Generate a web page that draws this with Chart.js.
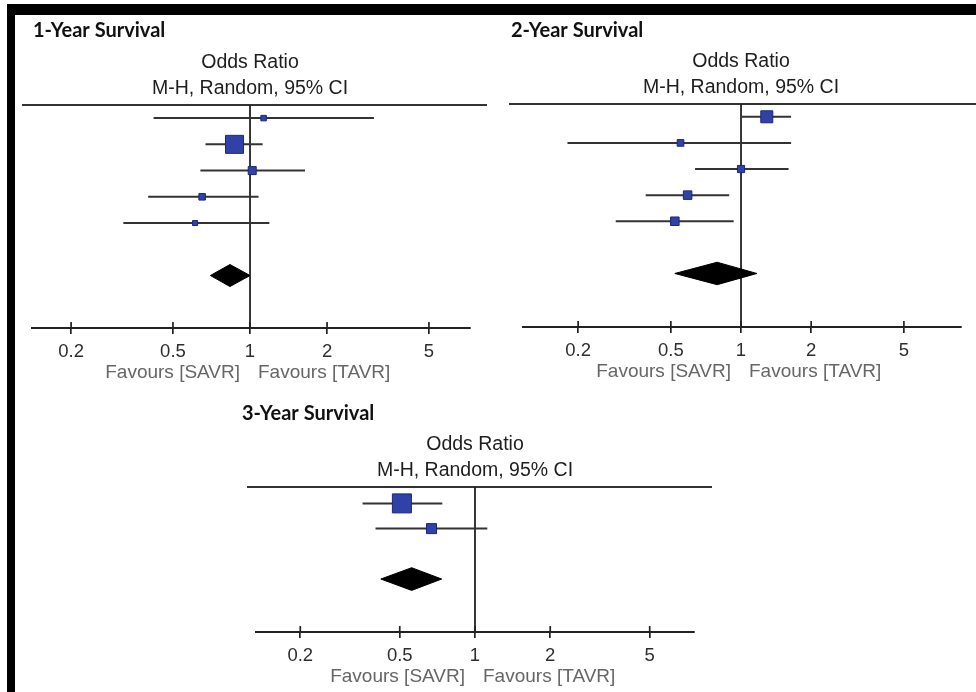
<!DOCTYPE html>
<html>
<head>
<meta charset="utf-8">
<script src="https://cdn.jsdelivr.net/npm/chart.js@4.4.1/dist/chart.umd.min.js"></script>
<style>
  html, body { margin: 0; padding: 0; background: #fff; }
  #page { position: relative; width: 976px; height: 692px; overflow: hidden; background: #fff; }
  .frame-top { position: absolute; left: 7px; top: 4px; width: 969px; height: 11px; background: #000; }
  .frame-left { position: absolute; left: 7px; top: 4px; width: 8px; height: 688px; background: #000; }
  canvas { position: absolute; }
</style>
</head>
<body>
<div id="page">
  <div class="frame-top"></div>
  <div class="frame-left"></div>
  <canvas id="oneYear" width="474" height="384" style="left:16px;top:16px;width:474px;height:384px"></canvas>
  <canvas id="twoYear" width="484" height="384" style="left:492px;top:16px;width:484px;height:384px"></canvas>
  <canvas id="threeYear" width="490" height="294" style="left:232px;top:398px;width:490px;height:294px"></canvas>
</div>
<script>
// Shared odds-ratio axis
const tickValues = [0.2, 0.5, 1, 2, 5];
const tickLabels = ['0.2', '0.5', '1', '2', '5'];
const headingLines = ['Odds Ratio', 'M-H, Random, 95% CI'];
const favourLabels = ['Favours [SAVR]', 'Favours [TAVR]'];
const panelTitles = ['1-Year Survival', '2-Year Survival', '3-Year Survival'];

// 1-year survival: per-study odds ratios, 95% CI bounds, weights (%)
const oneYearOR = [1.13, 0.87, 1.02, 0.65, 0.61];
const oneYearLower = [0.42, 0.67, 0.64, 0.40, 0.32];
const oneYearUpper = [3.05, 1.12, 1.64, 1.08, 1.19];
const oneYearWeight = [6.2, 66.8, 13.2, 8.7, 5.2];
const oneYearPooled = [0.70, 0.835, 1.0]; // lower, estimate, upper

// 2-year survival
const twoYearOR = [1.29, 0.55, 1.00, 0.59, 0.52];
const twoYearLower = [1.01, 0.18, 0.635, 0.39, 0.29];
const twoYearUpper = [1.64, 1.64, 1.60, 0.89, 0.93];
const twoYearWeight = [37.4, 11.5, 13.4, 18.9, 18.9];
const twoYearPooled = [0.52, 0.79, 1.17];

// 3-year survival
const threeYearOR = [0.51, 0.67];
const threeYearLower = [0.355, 0.40];
const threeYearUpper = [0.74, 1.12];
const threeYearWeight = [78.3, 21.7];
const threeYearPooled = [0.42, 0.558, 0.736];

const TEXT_FONT = '"Liberation Sans", Arial, sans-serif';
const TITLE_FONT = 'Lato, "Open Sans", sans-serif';

function forestPlot(canvasId, title, or, lower, upper, weight, pooled, look) {
  const maxW = Math.max(...weight);
  const pooledRow = look.pooledRow;
  const dh = look.diamondHalf;

  const datasets = [];
  // study squares, area proportional to weight
  datasets.push({
    label: 'studies',
    order: 0,
    data: or.map((v, i) => ({ x: v, y: i })),
    showLine: false,
    pointStyle: 'rect',
    pointRadius: weight.map(w => look.boxMax * Math.sqrt(w / maxW) / Math.SQRT2),
    pointBackgroundColor: '#3142a6',
    pointBorderColor: '#1d2679',
    pointBorderWidth: 1,
    clip: false
  });
  // confidence interval whiskers
  lower.forEach((lo, i) => {
    datasets.push({
      label: 'ci' + i,
      order: 2,
      data: [{ x: lo, y: i }, { x: upper[i], y: i }],
      showLine: true,
      borderColor: '#333',
      borderWidth: 2,
      pointRadius: 0,
      clip: false
    });
  });
  // pooled estimate diamond
  datasets.push({
    label: 'pooled',
    order: 1,
    data: [
      { x: pooled[0], y: pooledRow },
      { x: pooled[1], y: pooledRow - dh },
      { x: pooled[2], y: pooledRow },
      { x: pooled[1], y: pooledRow + dh },
      { x: pooled[0], y: pooledRow }
    ],
    showLine: true,
    fill: 'shape',
    backgroundColor: '#000',
    borderColor: '#000',
    borderWidth: 1,
    pointRadius: 0,
    tension: 0,
    clip: false
  });

  const decor = {
    id: 'forestDecor',
    beforeDatasetsDraw(chart) {
      const { ctx, chartArea, scales: { x } } = chart;
      const x1 = x.getPixelForValue(1);
      ctx.save();
      ctx.strokeStyle = '#333';
      ctx.lineWidth = 2;
      ctx.beginPath();
      ctx.moveTo(look.ruleLeft, chartArea.top);
      ctx.lineTo(look.ruleRight, chartArea.top);
      ctx.stroke();
      ctx.strokeStyle = '#222';
      ctx.lineWidth = 1.8;
      ctx.beginPath();
      ctx.moveTo(x1, chartArea.top);
      ctx.lineTo(x1, chartArea.bottom);
      ctx.stroke();
      // tick stubs above the axis line
      ctx.lineWidth = 1.7;
      tickValues.forEach(v => {
        const px = x.getPixelForValue(v);
        ctx.beginPath();
        ctx.moveTo(px, chartArea.bottom - 6);
        ctx.lineTo(px, chartArea.bottom);
        ctx.stroke();
      });
      ctx.restore();
    },
    afterDraw(chart) {
      const { ctx, chartArea, scales: { x } } = chart;
      const x1 = x.getPixelForValue(1);
      ctx.save();
      ctx.textBaseline = 'alphabetic';
      // panel title
      ctx.fillStyle = '#111';
      ctx.font = 'bold 20px ' + TITLE_FONT;
      ctx.textAlign = 'left';
      ctx.fillText(title, look.titleX, look.titleY);
      // column heading
      ctx.fillStyle = '#1e1e1e';
      ctx.font = '19.5px ' + TEXT_FONT;
      ctx.textAlign = 'center';
      ctx.fillText(headingLines[0], x1, chartArea.top - 37);
      ctx.fillText(headingLines[1], x1, chartArea.top - 11);
      // favours labels either side of the line of no effect
      ctx.fillStyle = '#666';
      ctx.font = '19px ' + TEXT_FONT;
      ctx.textBaseline = 'middle';
      ctx.textAlign = 'right';
      ctx.fillText(favourLabels[0], x1 - 10, chartArea.bottom + 45);
      ctx.textAlign = 'left';
      ctx.fillText(favourLabels[1], x1 + 8, chartArea.bottom + 45);
      ctx.restore();
    }
  };

  return new Chart(document.getElementById(canvasId), {
    type: 'scatter',
    data: { datasets },
    options: {
      responsive: false,
      animation: false,
      devicePixelRatio: 1,
      events: [],
      layout: { padding: { left: look.padLeft, right: look.padRight, top: look.padTop, bottom: 0 } },
      plugins: { legend: { display: false }, tooltip: { enabled: false }, title: { display: false } },
      scales: {
        x: {
          type: 'logarithmic',
          min: look.xMin,
          max: look.xMax,
          afterBuildTicks: ax => { ax.ticks = tickValues.map(v => ({ value: v })); },
          afterFit: ax => { ax.height = look.axisHeight; },
          ticks: {
            autoSkip: false,
            maxRotation: 0,
            padding: 7,
            color: '#2e2e2e',
            font: { family: TEXT_FONT, size: 18.5 },
            callback: v => {
              const k = tickValues.indexOf(v);
              return k >= 0 ? tickLabels[k] : '';
            }
          },
          grid: { drawOnChartArea: false, drawTicks: true, tickLength: 6, color: '#222', lineWidth: 1.7 },
          border: { display: true, color: '#222', width: 2 }
        },
        y: { type: 'linear', display: false, reverse: true, min: look.yMin, max: look.yMax }
      }
    },
    plugins: [decor]
  });
}

forestPlot('oneYear', panelTitles[0], oneYearOR, oneYearLower, oneYearUpper, oneYearWeight, oneYearPooled, {
  padLeft: 16, padRight: 20, padTop: 89, axisHeight: 72,
  xMin: 0.1407, xMax: 7.234, yMin: -0.5, yMax: 8.0,
  pooledRow: 6, diamondHalf: 0.42, boxMax: 18,
  ruleLeft: 6, ruleRight: 471, titleX: 17, titleY: 21
});
forestPlot('twoYear', panelTitles[1], twoYearOR, twoYearLower, twoYearUpper, twoYearWeight, twoYearPooled, {
  padLeft: 31, padRight: 15, padTop: 88, axisHeight: 73,
  xMin: 0.116, xMax: 8.79, yMin: -0.49, yMax: 8.05,
  pooledRow: 6, diamondHalf: 0.43, boxMax: 12,
  ruleLeft: 17, ruleRight: 484, titleX: 19, titleY: 21
});
forestPlot('threeYear', panelTitles[2], threeYearOR, threeYearLower, threeYearUpper, threeYearWeight, threeYearPooled, {
  padLeft: 24, padRight: 28, padTop: 89, axisHeight: 60,
  xMin: 0.133, xMax: 7.52, yMin: -0.65, yMax: 5.1,
  pooledRow: 3, diamondHalf: 0.45, boxMax: 19,
  ruleLeft: 15, ruleRight: 480, titleX: 10, titleY: 22
});
</script>
</body>
</html>
